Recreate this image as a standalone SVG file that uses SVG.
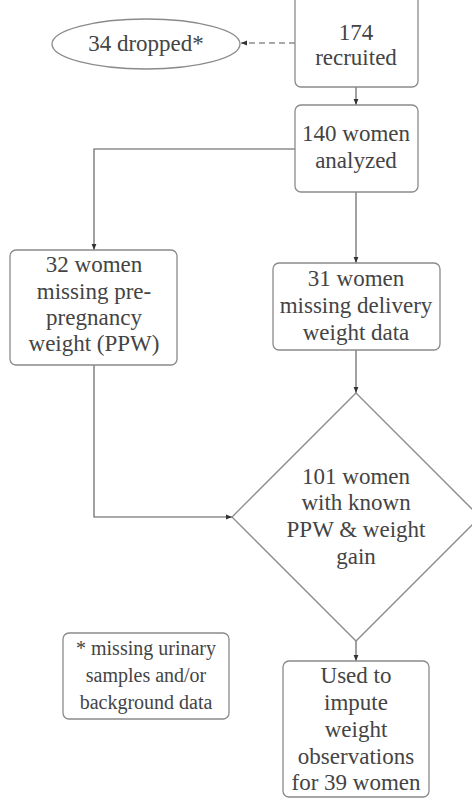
<svg xmlns="http://www.w3.org/2000/svg" width="472" height="798" viewBox="0 0 472 798">
<style>
.box{fill:#fff;stroke:#8a8a8a;stroke-width:1.3}
.t{font-size:23px;fill:#444;text-anchor:middle}
.s{font-size:20px}
.c{fill:none;stroke:#555;stroke-width:1.1}
</style>
<defs>
<marker id="ah" viewBox="0 0 10 10" refX="10" refY="5" markerWidth="6" markerHeight="6" orient="auto" markerUnits="userSpaceOnUse">
<path d="M0,1 L10,5 L0,9 Z" fill="#333"/>
</marker>
</defs>
<rect width="472" height="798" fill="#fff"/>
<g id="connectors">
<line class="c" x1="295" y1="43" x2="241" y2="43" stroke-dasharray="6,4" marker-end="url(#ah)"/>
<line class="c" x1="356" y1="87" x2="356" y2="105" marker-end="url(#ah)"/>
<polyline class="c" points="295,149 94,149 94,250" marker-end="url(#ah)"/>
<line class="c" x1="356" y1="192" x2="356" y2="263" marker-end="url(#ah)"/>
<line class="c" x1="356" y1="350" x2="356" y2="393" marker-end="url(#ah)"/>
<polyline class="c" points="94,365 94,517 232,517" marker-end="url(#ah)"/>
<line class="c" x1="356" y1="641" x2="356" y2="661" marker-end="url(#ah)"/>
</g>
<g font-family="Liberation Serif, serif">
<g id="recruited">
<rect class="box" x="295" y="-12" width="123" height="99" rx="6"/>
<text class="t" x="356" y="40">174</text>
<text class="t" x="356" y="65">recruited</text>
</g>
<g id="dropped">
<ellipse class="box" cx="146" cy="44" rx="94" ry="25"/>
<text class="t" x="146" y="51">34 dropped*</text>
</g>
<g id="analyzed">
<rect class="box" x="295" y="105" width="123" height="87" rx="6"/>
<text class="t" x="356" y="141">140 women</text>
<text class="t" x="356" y="168">analyzed</text>
</g>
<g id="missingppw">
<rect class="box" x="10" y="250" width="167" height="115" rx="6"/>
<text class="t" x="94" y="272">32 women</text>
<text class="t" x="94" y="299">missing pre-</text>
<text class="t" x="94" y="325">pregnancy</text>
<text class="t" x="94" y="351">weight (PPW)</text>
</g>
<g id="missingdelivery">
<rect class="box" x="273" y="263" width="167" height="87" rx="6"/>
<text class="t" x="356" y="286">31 women</text>
<text class="t" x="356" y="313">missing delivery</text>
<text class="t" x="356" y="340">weight data</text>
</g>
<g id="known">
<polygon class="box" points="356,393 480,517 356,641 232,517"/>
<text class="t" x="356" y="484">101 women</text>
<text class="t" x="356" y="510">with known</text>
<text class="t" x="356" y="537">PPW &amp; weight</text>
<text class="t" x="356" y="564">gain</text>
</g>
<g id="footnote">
<rect class="box" x="63" y="633" width="166" height="86" rx="6"/>
<text class="t s" x="146" y="655">* missing urinary</text>
<text class="t s" x="146" y="682">samples and/or</text>
<text class="t s" x="146" y="709">background data</text>
</g>
<g id="impute">
<rect class="box" x="283" y="661" width="146" height="136" rx="6"/>
<text class="t" x="356" y="683">Used to</text>
<text class="t" x="356" y="710">impute</text>
<text class="t" x="356" y="737">weight</text>
<text class="t" x="356" y="764">observations</text>
<text class="t" x="356" y="790">for 39 women</text>
</g>
</g>
</svg>
